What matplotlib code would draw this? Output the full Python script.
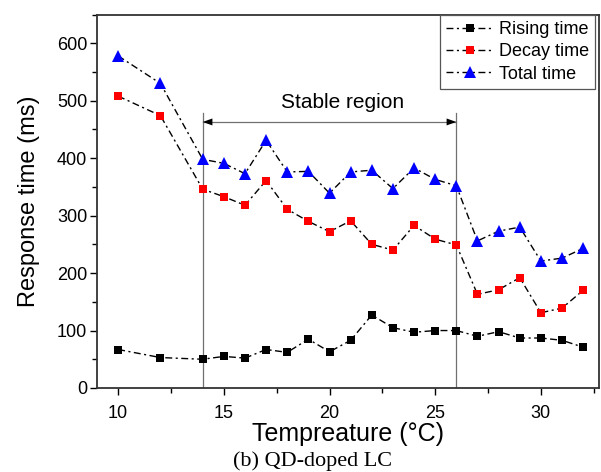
import matplotlib
matplotlib.use("Agg")
import matplotlib.pyplot as plt
from matplotlib.ticker import MultipleLocator

plt.rcParams['font.family'] = ['Liberation Sans', 'DejaVu Sans']

temps_rise = [10, 12, 14, 15, 16, 17, 18, 19, 20, 21, 22, 23, 24, 25, 26, 27, 28, 29, 30, 31, 32]
rising = [67, 53, 50, 55, 52, 67, 62, 85, 63, 83, 127, 105, 97, 100, 100, 90, 98, 87, 87, 83, 71]
decay = [508, 474, 346, 333, 318, 361, 311, 290, 272, 291, 250, 240, 283, 259, 249, 163, 171, 192, 131, 139, 170]
total = [578, 530, 398, 391, 373, 431, 376, 377, 339, 376, 379, 347, 383, 363, 352, 256, 273, 280, 221, 226, 243]
labels = ["Rising time", "Decay time", "Total time"]
stable_start, stable_end = 14, 26

fig = plt.figure(figsize=(6.01, 4.72), dpi=100)
ax = fig.add_axes([97/601, 1-388/472, (599-97)/601, (388-14.5)/472])

ls = (0, (5, 2.5, 1.5, 2.5))
ax.plot(temps_rise, rising, color='black', lw=1.0, linestyle=ls, marker='s', ms=5.5,
        mfc='black', mec='black', mew=0, label=labels[0])
ax.plot(temps_rise, decay, color='black', lw=1.0, linestyle=ls, marker='s', ms=5.5,
        mfc='red', mec='red', mew=0, label=labels[1])
ax.plot(temps_rise, total, color='black', lw=1.0, linestyle=ls, marker='^', ms=8.5,
        mfc='blue', mec='blue', mew=0, label=labels[2])

# stable region
ax.plot([stable_start, stable_start], [0, 478], color='#707070', lw=0.9, zorder=1)
ax.plot([stable_end, stable_end], [0, 478], color='#707070', lw=0.9, zorder=1)
ax.plot([stable_start, stable_end], [463, 463], color='#707070', lw=0.9, zorder=1)
ax.annotate('', xy=(stable_start, 463), xytext=(stable_start + 1, 463),
            arrowprops=dict(arrowstyle='-|>,head_length=0.7,head_width=0.25',
                            color='black', lw=0, shrinkA=0, shrinkB=0))
ax.annotate('', xy=(stable_end, 463), xytext=(stable_end - 1, 463),
            arrowprops=dict(arrowstyle='-|>,head_length=0.7,head_width=0.25',
                            color='black', lw=0, shrinkA=0, shrinkB=0))
ax.text((stable_start + stable_end) / 2 + 0.6, 480, 'Stable region', ha='center', va='bottom',
        fontsize=15)

ax.set_xlim(9, 32.75)
ax.set_ylim(0, 650)
ax.xaxis.set_major_locator(MultipleLocator(5))
ax.xaxis.set_minor_locator(MultipleLocator(2.5))
ax.yaxis.set_major_locator(MultipleLocator(100))
ax.yaxis.set_minor_locator(MultipleLocator(50))
ax.tick_params(which='major', direction='out', length=5, width=1.0, labelsize=13)
ax.tick_params(which='minor', direction='out', length=3.5, width=1.0)
ax.tick_params(axis='y', which='major', pad=2)
ax.tick_params(axis='x', which='major', pad=7)
for s in ax.spines.values():
    s.set_linewidth(1.3)
    s.set_color('#333333')

ax.set_xlabel('Tempreature (°C)', fontsize=18, labelpad=0)
ax.set_ylabel('Response time (ms)', fontsize=17, labelpad=12)

leg = ax.legend(loc='upper right', bbox_to_anchor=(0.992, 1.0), fontsize=13,
                frameon=True, fancybox=False, edgecolor='#555555', framealpha=1,
                borderaxespad=0, handlelength=2.6, handletextpad=0.3,
                labelspacing=0.3, borderpad=0.35)
leg.get_frame().set_linewidth(0.9)

fig.text(313/601, 1-471/472, '(b) QD-doped LC', ha='center', va='bottom',
         fontsize=16, family=['Liberation Serif', 'DejaVu Serif'])

fig.savefig('out.png', dpi=100)
